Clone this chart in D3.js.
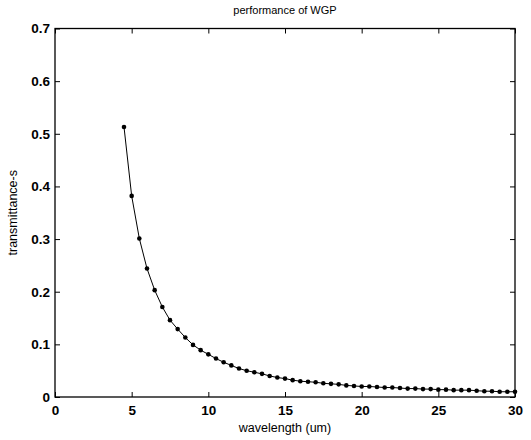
<!DOCTYPE html>
<html lang="en">
<head>
  <meta charset="UTF-8">
  <script src="https://d3js.org/d3.v7.min.js"></script>
  <title>performance of WGP</title>
  <style>
    body { margin: 0; background: #fff; }
    text { font-family: "Liberation Sans", Arial, sans-serif; fill: #000; }
  </style>
</head>
<body>
  <svg id="svgWrapper" width="531" height="440"></svg>
  <script>
    // wavelength (um)
    const wavelength = [4.5, 5, 5.5, 6, 6.5, 7, 7.5, 8, 8.5, 9, 9.5, 10, 10.5, 11, 11.5, 12, 12.5, 13,
      13.5, 14, 14.5, 15, 15.5, 16, 16.5, 17, 17.5, 18, 18.5, 19, 19.5, 20, 20.5, 21, 21.5, 22,
      22.5, 23, 23.5, 24, 24.5, 25, 25.5, 26, 26.5, 27, 27.5, 28, 28.5, 29, 29.5, 30];
    // transmittance-s
    const transmittance = [0.513, 0.382, 0.301, 0.244, 0.203, 0.171, 0.146, 0.129, 0.113, 0.099, 0.089,
      0.081, 0.073, 0.066, 0.060, 0.054, 0.050, 0.047, 0.044, 0.040, 0.037, 0.035, 0.032, 0.030,
      0.029, 0.028, 0.026, 0.025, 0.024, 0.022, 0.021, 0.020, 0.020, 0.019, 0.018, 0.018, 0.017,
      0.016, 0.016, 0.015, 0.015, 0.014, 0.014, 0.013, 0.013, 0.013, 0.012, 0.011, 0.011, 0.010,
      0.010, 0.010];
    const xTicks = [0, 5, 10, 15, 20, 25, 30];
    const yTicks = [0, 0.1, 0.2, 0.3, 0.4, 0.5, 0.6, 0.7];

    const pts = wavelength.map((w, i) => ({ x: w, y: transmittance[i] }));

    const plotL = 55, plotR = 515, plotT = 28.5, plotB = 397;
    const svgEl = d3.select("#svgWrapper");

    const x = d3.scaleLinear().domain([0, 30]).range([plotL, plotR]);
    const y = d3.scaleLinear().domain([0, 0.7]).range([plotB, plotT]);

    // ticks pointing inward on all four sides, like matlab
    const tickLen = 5;
    const fmtY = d => d === 0 ? "0" : d3.format(".1f")(d);

    const gBottom = svgEl.append("g").attr("transform", `translate(0,${plotB})`)
      .call(d3.axisBottom(x).tickValues(xTicks).tickSizeInner(-tickLen).tickSizeOuter(0).tickPadding(8));
    const gTop = svgEl.append("g").attr("transform", `translate(0,${plotT})`)
      .call(d3.axisTop(x).tickValues(xTicks).tickSizeInner(-tickLen).tickSizeOuter(0).tickFormat(""));
    const gLeft = svgEl.append("g").attr("transform", `translate(${plotL},0)`)
      .call(d3.axisLeft(y).tickValues(yTicks).tickSizeInner(-tickLen).tickSizeOuter(0).tickFormat(fmtY).tickPadding(5));
    const gRight = svgEl.append("g").attr("transform", `translate(${plotR},0)`)
      .call(d3.axisRight(y).tickValues(yTicks).tickSizeInner(-tickLen).tickSizeOuter(0).tickFormat(""));

    [gBottom, gTop, gLeft, gRight].forEach(g => {
      g.select(".domain").remove();
      g.selectAll("line").attr("stroke", "#000").attr("stroke-width", 1);
      g.selectAll("text").style("font-size", "13.5px").style("font-weight", "bold")
        .attr("font-family", null);
    });

    // frame
    svgEl.append("rect")
      .attr("x", plotL).attr("y", plotT)
      .attr("width", plotR - plotL).attr("height", plotB - plotT)
      .attr("fill", "none").attr("stroke", "#000").attr("stroke-width", 1.3);

    // curve
    const line = d3.line().x(d => x(d.x)).y(d => y(d.y));
    svgEl.append("path")
      .datum(pts)
      .attr("d", line)
      .attr("fill", "none")
      .attr("stroke", "#000")
      .attr("stroke-width", 1);

    svgEl.selectAll("circle.pt")
      .data(pts)
      .enter()
      .append("circle")
      .attr("class", "pt")
      .attr("cx", d => x(d.x))
      .attr("cy", d => y(d.y))
      .attr("r", 2.3)
      .attr("fill", "#000");

    // titles
    svgEl.append("text")
      .attr("x", (plotL + plotR) / 2).attr("y", 14)
      .attr("text-anchor", "middle")
      .style("font-size", "11px")
      .text("performance of WGP");

    svgEl.append("text")
      .attr("x", (plotL + plotR) / 2).attr("y", 432)
      .attr("text-anchor", "middle")
      .style("font-size", "12.5px")
      .text("wavelength (um)");

    svgEl.append("text")
      .attr("transform", `translate(17,${(plotT + plotB) / 2}) rotate(-90)`)
      .attr("text-anchor", "middle")
      .style("font-size", "12.5px")
      .text("transmittance-s");
  </script>
</body>
</html>
